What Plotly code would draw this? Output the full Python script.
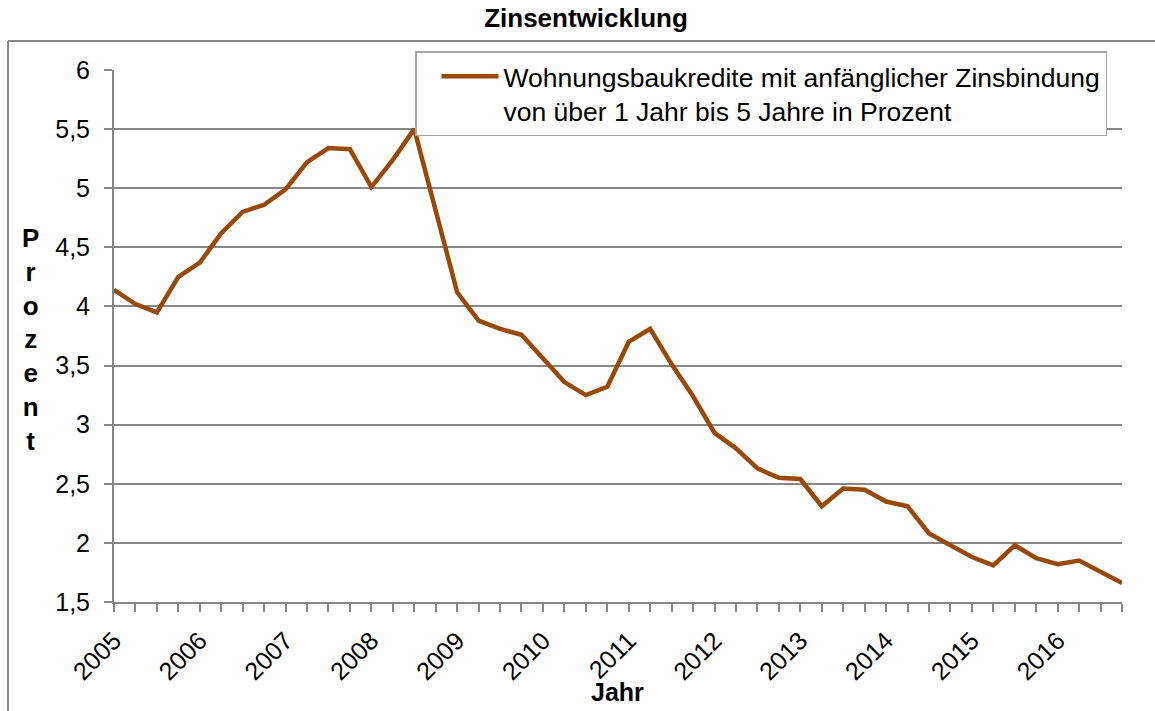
import plotly.graph_objects as go

# ---- data ----
years = list(range(2005, 2017))
quarters = [f"{y}-Q{q}" for y in years for q in range(1, 5)]
zinsen = [
    4.14, 4.02, 3.95, 4.25,
    4.37, 4.62, 4.80, 4.86,
    4.99, 5.22, 5.34, 5.33,
    5.01, 5.24, 5.50, 4.81,
    4.12, 3.88, 3.81, 3.76,
    3.56, 3.36, 3.25, 3.32,
    3.70, 3.81, 3.51, 3.24,
    2.93, 2.80, 2.63, 2.55,
    2.54, 2.31, 2.46, 2.45,
    2.35, 2.31, 2.08, 1.98,
    1.88, 1.81, 1.98, 1.87,
    1.82, 1.85, 1.75, 1.66,
]
series_name = "Wohnungsbaukredite mit anfänglicher Zinsbindung<br>von über 1 Jahr bis 5 Jahre in Prozent"
y_ticks = [1.5, 2, 2.5, 3, 3.5, 4, 4.5, 5, 5.5, 6]
y_ticklabels = ["1,5", "2", "2,5", "3", "3,5", "4", "4,5", "5", "5,5", "6"]

# ---- positions derived from categories ----
xpos = list(range(len(quarters)))
x_ticktext = [q.split("-")[0] if q.endswith("Q1") else "" for q in quarters]

FONT = "Liberation Sans, Arial, Helvetica, sans-serif"
GREY = "#878787"
LINE = "#984807"

fig = go.Figure()
fig.add_trace(go.Scatter(
    x=xpos, y=zinsen, mode="lines", name=series_name,
    line=dict(color=LINE, width=4.5),
    showlegend=True,
))

W, H = 1155, 711
L, R, T, B = 114, 33, 70, 109
pw, ph = W - L - R, H - T - B

def px_x(p):
    return (p - L) / pw

def px_y(p):
    return (H - B - p) / ph

fig.update_layout(
    width=W, height=H,
    margin=dict(l=L, r=R, t=T, b=B, pad=0, autoexpand=False),
    paper_bgcolor="white", plot_bgcolor="white",
    font=dict(family=FONT, color="black", size=25),
    separators=",.",
    title=dict(text="<b>Zinsentwicklung</b>", x=586 / W, xanchor="center",
               y=1 - 18 / H, yanchor="middle", yref="container",
               font=dict(size=26, family=FONT, color="black")),
    xaxis=dict(
        range=[0, len(quarters) - 1],
        tickmode="array", tickvals=xpos, ticktext=x_ticktext,
        tickangle=-45, ticks="outside", ticklen=8, tickcolor=GREY, tickwidth=1.5,
        showline=True, linecolor=GREY, linewidth=2,
        showgrid=False, zeroline=False,
        tickfont=dict(size=25, family=FONT, color="black"),
        ticklabelstandoff=4,
    ),
    yaxis=dict(
        range=[1.5, 6],
        tickmode="array", tickvals=y_ticks, ticktext=y_ticklabels,
        ticks="outside", ticklen=8, tickcolor=GREY, tickwidth=1.5,
        showline=True, linecolor=GREY, linewidth=2,
        showgrid=True, gridcolor=GREY, gridwidth=1.5,
        zeroline=False,
        tickfont=dict(size=25, family=FONT, color="black"),
        ticklabelstandoff=9,
    ),
    legend=dict(
        x=px_x(415), y=px_y(51), xanchor="left", yanchor="top",
        bgcolor="white", bordercolor="#a6a6a6", borderwidth=1.5,
        font=dict(size=26.5, family=FONT, color="black"),
        valign="top", itemwidth=57, indentation=20,
        entrywidth=634, tracegroupgap=0,
    ),
    annotations=[
        dict(text="<b>Jahr</b>", x=px_x(617), y=px_y(692), xref="paper", yref="paper",
             xanchor="center", yanchor="middle", showarrow=False,
             font=dict(size=25, family=FONT, color="black")),
        dict(text="<b>" + "<br>".join(list("Prozent")) + "</b>",
             x=px_x(30), y=px_y(339), xref="paper", yref="paper",
             xanchor="center", yanchor="middle", showarrow=False,
             font=dict(size=26, family=FONT, color="black")),
    ],
    shapes=[
        dict(type="line", xref="paper", yref="paper",
             x0=px_x(8), x1=px_x(W + 20), y0=px_y(41), y1=px_y(41),
             line=dict(color=GREY, width=2)),
        dict(type="line", xref="paper", yref="paper",
             x0=px_x(8), x1=px_x(8), y0=px_y(41), y1=px_y(H + 20),
             line=dict(color=GREY, width=2)),
    ],
)

fig.write_html(
    "out.html",
    config={"displayModeBar": False},
    post_script="document.body.style.margin='0';document.body.style.padding='0';",
)
